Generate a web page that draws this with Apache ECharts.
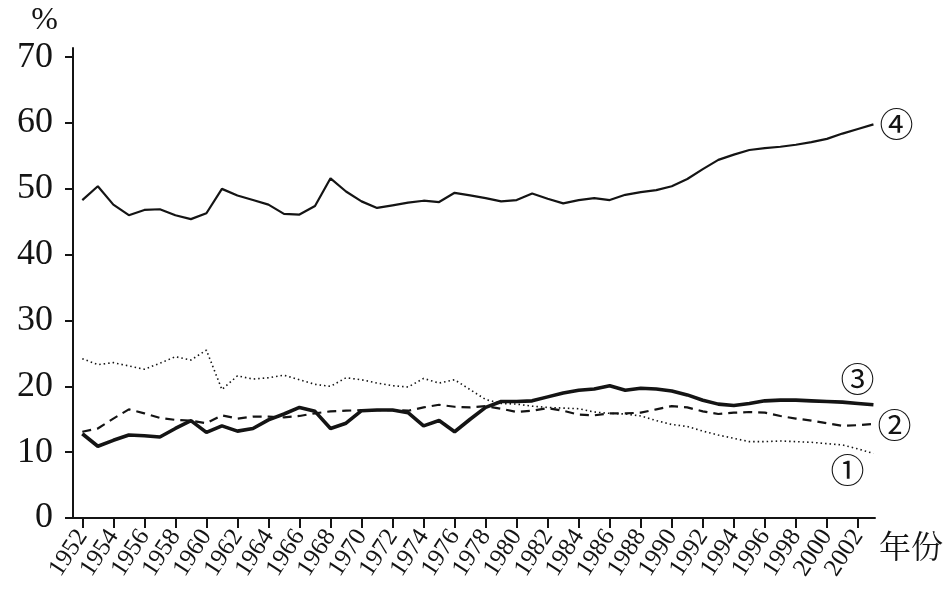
<!DOCTYPE html>
<html><head><meta charset="utf-8">
<script src="https://cdn.jsdelivr.net/npm/echarts@6/dist/echarts.min.js"></script>
<style>html,body{margin:0;padding:0;background:#fff}#c{width:948px;height:606px}</style>
</head><body><div id="c"></div>
<script>
var years = [];
for (var y = 1952; y <= 2003; y++) years.push(y);
var xTickYears = [1952,1954,1956,1958,1960,1962,1964,1966,1968,1970,1972,1974,1976,1978,1980,1982,1984,1986,1988,1990,1992,1994,1996,1998,2000,2002];
var yTicks = [0,10,20,30,40,50,60,70];
var seriesNames = ['①','②','③','④'];
// ① dotted
var s1 = [24.2,23.3,23.6,23.1,22.6,23.5,24.5,24.0,25.5,19.5,21.6,21.1,21.3,21.7,21.0,20.3,20.0,21.3,21.0,20.5,20.1,19.9,21.2,20.5,21.0,19.5,18.0,17.4,17.3,17.0,16.8,16.7,16.6,16.1,15.9,15.8,15.5,14.8,14.2,13.9,13.2,12.6,12.1,11.6,11.6,11.7,11.6,11.5,11.3,11.1,10.5,9.8];
// ② dashed
var s2 = [13.1,13.6,15.1,16.5,15.9,15.2,14.9,14.8,14.4,15.6,15.1,15.4,15.4,15.3,15.5,15.9,16.2,16.3,16.4,16.4,16.4,16.3,16.8,17.2,16.9,16.8,17.0,16.6,16.1,16.3,16.7,16.3,15.7,15.6,15.9,15.9,16.0,16.5,17.0,16.8,16.2,15.8,16.0,16.1,16.0,15.5,15.1,14.8,14.4,14.0,14.1,14.3];
// ③ thick solid
var s3 = [12.8,10.9,11.8,12.6,12.5,12.3,13.6,14.8,13.0,14.0,13.2,13.6,14.9,15.8,16.8,16.2,13.6,14.4,16.3,16.4,16.4,16.0,14.0,14.8,13.1,15.0,16.8,17.7,17.7,17.8,18.4,19.0,19.4,19.6,20.1,19.4,19.7,19.6,19.3,18.7,17.9,17.3,17.1,17.4,17.8,17.9,17.9,17.8,17.7,17.6,17.4,17.2];
// ④ thin solid
var s4 = [48.3,50.4,47.6,46.0,46.8,46.9,46.0,45.4,46.3,50.0,49.0,48.3,47.6,46.2,46.1,47.4,51.6,49.6,48.1,47.1,47.5,47.9,48.2,48.0,49.4,49.0,48.6,48.1,48.3,49.3,48.5,47.8,48.3,48.6,48.3,49.1,49.5,49.8,50.4,51.5,53.0,54.4,55.2,55.9,56.2,56.4,56.7,57.1,57.6,58.4,59.1,59.8];

function pairs(arr){ return arr.map(function(v,i){ return [years[i], v]; }); }
var ink = '#141414';
var serif = '"Liberation Serif","Times New Roman",serif';
var circ = '"Noto Sans CJK SC","DejaVu Sans",sans-serif';

function endLbl(name, off){
  return {show:true, formatter:name, offset:off, color:ink, fontFamily:circ, fontSize:34, distance:6};
}

var chart = echarts.init(document.getElementById('c'), null, {renderer:'canvas'});
chart.setOption({
  backgroundColor:'#fff',
  animation:false,
  grid:{left:73, right:73, top:48, bottom:88},
  xAxis:{
    type:'value', min:1951.4, max:2003.1,
    name:'年份', nameLocation:'end', nameGap:4,
    nameTextStyle:{color:ink, fontSize:32, fontFamily:'"Noto Serif CJK SC","Noto Sans CJK SC",serif', align:'left', verticalAlign:'top', padding:[12,0,0,0]},
    axisLine:{show:true, onZero:false, lineStyle:{color:ink, width:2}},
    axisTick:{show:true, inside:false, length:10, customValues:xTickYears, lineStyle:{color:ink, width:2}},
    axisLabel:{customValues:xTickYears, rotate:57, margin:14, color:ink, fontSize:25, fontFamily:serif,
      showMinLabel:true, showMaxLabel:true, hideOverlap:false, formatter:function(v){return String(v);}},
    splitLine:{show:false}
  },
  yAxis:{
    type:'value', min:0, max:71.4,
    name:'%', nameLocation:'end', nameGap:11,
    nameTextStyle:{color:ink, fontSize:32, fontFamily:serif, align:'right', verticalAlign:'bottom', padding:[0,15,0,0]},
    axisLine:{show:true, lineStyle:{color:ink, width:2}},
    axisTick:{show:true, inside:false, length:8, customValues:yTicks, lineStyle:{color:ink, width:2}},
    axisLabel:{customValues:yTicks, margin:20, color:ink, fontSize:36, fontFamily:serif, showMinLabel:true, showMaxLabel:true},
    splitLine:{show:false}
  },
  series:[
    {name:seriesNames[0], type:'line', data:pairs(s1), showSymbol:false, symbol:'none',
     lineStyle:{color:ink, width:1.6, type:[1.5,3]}, endLabel:endLbl(seriesNames[0],[-49,17])},
    {name:seriesNames[1], type:'line', data:pairs(s2), showSymbol:false, symbol:'none',
     lineStyle:{color:ink, width:2.2, type:[9,6]}, endLabel:endLbl(seriesNames[1],[-2,1])},
    {name:seriesNames[2], type:'line', data:pairs(s3), showSymbol:false, symbol:'none',
     lineStyle:{color:ink, width:3.6}, endLabel:endLbl(seriesNames[2],[-39,-26])},
    {name:seriesNames[3], type:'line', data:pairs(s4), showSymbol:false, symbol:'none',
     lineStyle:{color:ink, width:2.2}, endLabel:endLbl(seriesNames[3],[0,0])}
  ]
});
</script>
</body></html>
